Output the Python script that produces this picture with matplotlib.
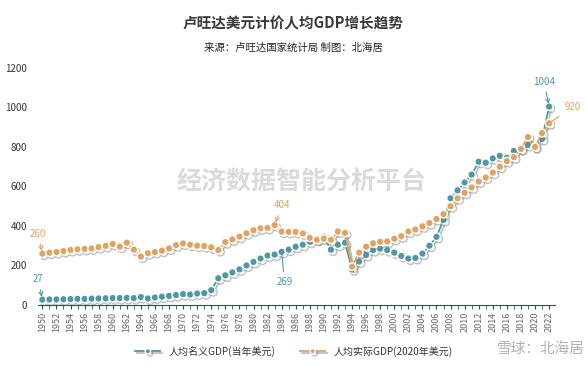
import numpy as np
import matplotlib
matplotlib.use("Agg")
import matplotlib.pyplot as plt
import matplotlib.patheffects as pe

plt.rcParams['font.family'] = ['Noto Sans CJK SC', 'DejaVu Sans']

# 数据
years = list(range(1950, 2023))
nominal = [27, 28, 28, 29, 30, 31, 31, 32, 33, 34,
           35, 35, 36, 35, 40, 33, 38, 42, 46, 50,
           55, 53, 58, 60, 75, 135, 150, 165, 180, 200,
           218, 235, 250, 255, 269, 280, 295, 305, 320, 332,
           345, 280, 305, 315, 180, 220, 253, 278, 285, 278,
           265, 248, 235, 238, 260, 300, 345, 430, 540, 580,
           620, 660, 725, 720, 742, 755, 745, 780, 790, 810,
           800, 840, 1004]
real = [260, 265, 268, 273, 278, 282, 284, 286, 293, 299,
        309, 295, 315, 280, 245, 262, 268, 275, 286, 303,
        311, 305, 300, 298, 292, 278, 318, 332, 346, 363,
        378, 388, 390, 404, 371, 370, 370, 362, 340, 330,
        336, 330, 372, 365, 194, 265, 295, 312, 320, 322,
        335, 348, 372, 382, 398, 415, 435, 460, 500, 540,
        568, 595, 625, 645, 670, 700, 728, 748, 790, 850,
        800, 870, 920]
labels = ['人均名义GDP(当年美元)', '人均实际GDP(2020年美元)']

teal = '#4f98a3'
orange = '#e0a462'

fig = plt.figure(figsize=(5.87, 3.67), dpi=100)
ax = fig.add_axes([0.065, 0.169, 0.88, 0.646])

shadow = [pe.SimpleLineShadow(offset=(1.5, -1.5), shadow_color='gray', alpha=0.5), pe.Normal()]
for vals, c, lab in [(nominal, teal, labels[0]), (real, orange, labels[1])]:
    ax.plot(years, vals, color=c, lw=1.3, marker='o', ms=5.5,
            mfc=c, mec='white', mew=1.0, label=lab, path_effects=shadow, zorder=3)

ax.set_xlim(1949.4, 2022.8)
ax.set_ylim(0, 1200)
ax.set_yticks(range(0, 1201, 200))
ax.set_xticks(range(1950, 2023, 2))
ax.set_xticks(range(1950, 2023), minor=True)
ax.set_xticklabels([str(y) for y in range(1950, 2023, 2)], rotation=90)
ax.tick_params(axis='x', labelsize=6.5, colors='#666666', length=3, which='both',
               color='#2f4f4f', direction='out', pad=2)
ax.tick_params(axis='y', labelsize=7, colors='#333333', length=0, pad=8)
for s in ['top', 'right', 'left']:
    ax.spines[s].set_visible(False)
ax.spines['bottom'].set_color('#2f4f4f')

# 标注
arr = dict(arrowstyle='->', lw=0.8)
ax.annotate('27', (1950, 27), xytext=(1949.4, 115), color=teal, fontsize=7, ha='center',
            arrowprops=dict(arr, color=teal))
ax.annotate('260', (1950, 260), xytext=(1949.4, 345), color=orange, fontsize=7, ha='center',
            arrowprops=dict(arr, color=orange))
ax.annotate('404', (1983, 404), xytext=(1984.1, 490), color=orange, fontsize=7, ha='center',
            arrowprops=dict(arr, color=orange))
ax.annotate('269', (1984, 269), xytext=(1984.4, 100), color=teal, fontsize=7, ha='center',
            arrowprops=dict(arrowstyle='-', lw=0.8, color=teal))
ax.annotate('1004', (2022, 1004), xytext=(2021.3, 1115), color=teal, fontsize=7, ha='center',
            arrowprops=dict(arr, color=teal))
ax.annotate('920', (2022, 920), xytext=(2025.3, 1000), color=orange, fontsize=7, ha='center',
            va='center', arrowprops=dict(arrowstyle='-', lw=0.8, color=orange), annotation_clip=False)

# 水印
fig.text(0.30, 0.505, '经济数据智能分析平台', fontsize=18, color='#dadada', fontweight='bold',
         va='center', zorder=0)
fig.text(0.847, 0.05, '雪球：北海居', fontsize=10.5, color='#b0b0b0', ha='left', va='center')

fig.text(0.5, 0.935, '卢旺达美元计价人均GDP增长趋势', fontsize=10.5, fontweight='bold',
         color='#3a3a3a', ha='center', va='center')
fig.text(0.5, 0.87, '来源：卢旺达国家统计局 制图：北海居', fontsize=7.5,
         color='#222222', ha='center', va='center')

ax.legend(loc='upper center', bbox_to_anchor=(0.495, -0.135), ncol=2, frameon=False,
          fontsize=7.2, handlelength=2.5, columnspacing=2.5, labelcolor='#333333',
          markerscale=0.7)

fig.savefig('out.png', dpi=100)
